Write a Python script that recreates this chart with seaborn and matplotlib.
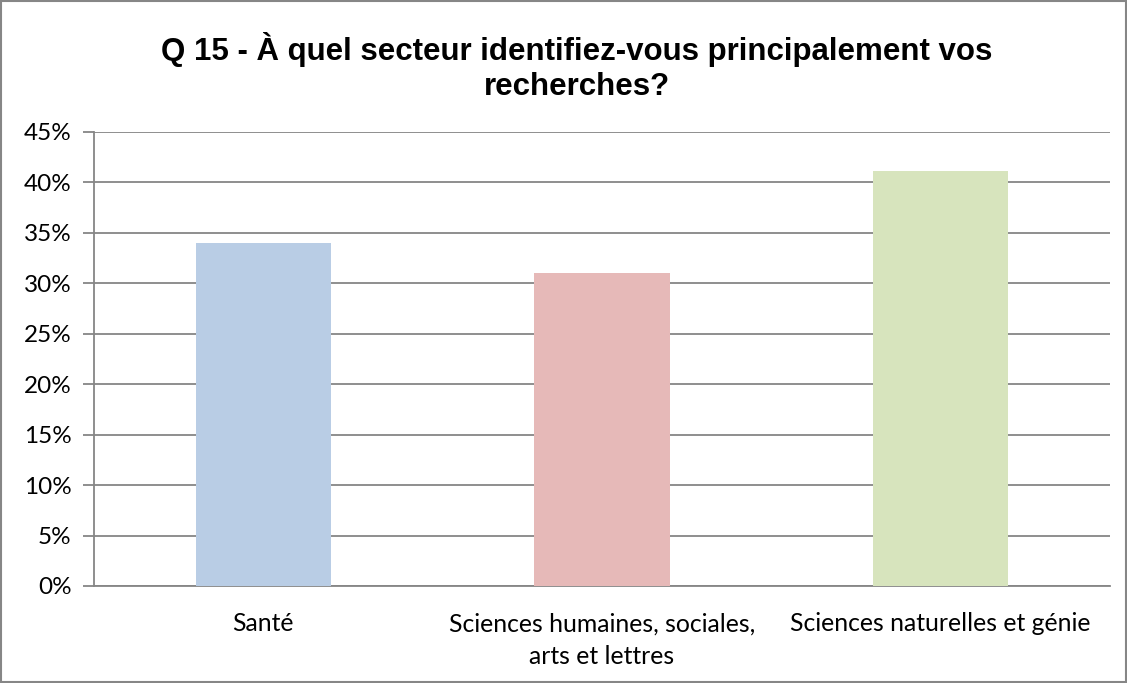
import matplotlib
matplotlib.use("Agg")
import matplotlib.pyplot as plt
import seaborn as sns
import pandas as pd
from matplotlib.ticker import PercentFormatter, FixedLocator

categories = ["Santé", "Sciences humaines, sociales,\narts et lettres", "Sciences naturelles et génie"]
values = [34.0, 31.0, 41.1]
colors = ["#B9CDE5", "#E6B9B8", "#D7E4BD"]
yticks = [0, 5, 10, 15, 20, 25, 30, 35, 40, 45]
title = "Q 15 - À quel secteur identifiez-vous principalement vos\nrecherches?"

sns.set_style("white")
plt.rcParams['font.family'] = ['Lato', 'DejaVu Sans']

df = pd.DataFrame({"cat": categories, "val": values})

fig = plt.figure(figsize=(11.27, 6.83), dpi=100)
ax = fig.add_axes([94/1127, 97/683, (1110-94)/1127, (586-132)/683])

sns.barplot(data=df, x="cat", y="val", hue="cat", palette=colors, width=0.4,
            legend=False, ax=ax, zorder=3, saturation=1, linewidth=0)

ax.set_ylim(0, 45)
ax.set_xlim(-0.5, 2.5)
ax.set_yticks(yticks)
ax.yaxis.set_major_formatter(PercentFormatter(decimals=0))
ax.grid(axis="y", color="#868686", linewidth=1.3, zorder=0)
ax.set_axisbelow(True)
for s in ["top", "right"]:
    ax.spines[s].set_visible(False)
for s in ["left", "bottom"]:
    ax.spines[s].set_color("#868686")
    ax.spines[s].set_linewidth(1.3)

ax.xaxis.set_minor_locator(FixedLocator([-0.5, 0.5, 1.5, 2.5]))
ax.tick_params(axis="x", which="major", length=0, labelsize=17.8, pad=19, labelcolor="black")
ax.tick_params(axis="x", which="minor", length=8, width=1.3, color="#868686", direction="out")
ax.tick_params(axis="y", which="major", length=8, width=1.3, color="#868686", direction="out",
               labelsize=17.5, left=True, pad=8, labelcolor="black")
for lbl in ax.get_xticklabels():
    lbl.set_linespacing(1.5)
ax.set_xlabel("")
ax.set_ylabel("")

fig.text(577/1127, 0.902, title, ha="center", va="center", fontsize=22.5, fontweight="bold",
         family=["Liberation Sans", "DejaVu Sans"], linespacing=1.2, color="black")

border = plt.Rectangle((0.001, 0.001), 0.998, 0.997, transform=fig.transFigure,
                       fill=False, edgecolor="#868686", linewidth=1.5)
fig.patches.append(border)

fig.savefig("out.png", dpi=100)
